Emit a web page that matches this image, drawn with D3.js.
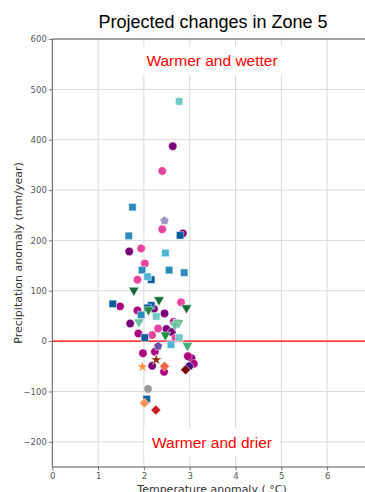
<!DOCTYPE html>
<html>
<head>
<meta charset="utf-8">
<script src="https://cdn.jsdelivr.net/npm/d3@7"></script>
<style>
  body { margin: 0; background: #fff; }
  svg { display: block; }
</style>
</head>
<body>
<div id="chart"></div>
<script>
// projected anomalies: [temperature (°C), precipitation (mm/year)]
var purpleCircles = [[2.63, 387], [1.68, 178], [2.85, 214], [1.70, 35], [2.45, 55], [2.49, 24], [2.61, 18], [2.22, 64], [2.18, -49], [3.04, -34]];
var magentaCircles = [[1.48, 69], [1.86, 61], [1.88, 15], [1.98, -24], [2.24, -21], [2.44, -61], [2.96, -30], [3.09, -45], [2.65, 38]];
var pinkCircles = [[2.40, 338], [2.40, 222], [1.94, 184], [2.02, 154], [1.86, 122], [2.81, 77], [2.31, 25], [2.18, 12], [2.69, 6]];
var indigoCircles = [[2.99, -50]];
var greyCircles = [[2.09, -95]];
var darkBlueSquares = [[2.79, 210], [2.16, 122], [1.32, 74], [2.16, 71], [2.08, 66], [2.02, 7], [2.06, -115]];
var blueSquares = [[1.75, 266], [1.67, 209], [1.96, 141], [2.55, 141], [2.88, 136], [1.94, 52]];
var lightBlueSquares = [[2.47, 175], [2.08, 128], [2.59, -7], [2.72, 36]];
var tealSquares = [[2.77, 476], [2.27, 49], [2.77, 7]];
var darkGreenTriangles = [[1.78, 101], [2.33, 82], [2.93, 66]];
var greenTriangles = [[2.10, 62], [2.47, 12]];
var midGreenTriangles = [[2.95, -9], [2.75, 36]];
var paleGreenTriangles = [[1.89, 38], [2.68, 32]];
var darkRedDiamonds = [[2.91, -57]];
var redDiamonds = [[2.26, -137]];
var orangeRedDiamonds = [[2.45, -50]];
var orangeDiamonds = [[2.01, -123]];
var brownStars = [[2.27, -37]];
var orangeStars = [[1.97, -51]];
var lavenderPentagons = [[2.45, 239]];
var violetPentagons = [[2.31, -10]];

var xTicks = [0, 1, 2, 3, 4, 5, 6];
var yTicks = [-200, -100, 0, 100, 200, 300, 400, 500, 600];

var width = 365, height = 492;
var plotLeft = 52.3, plotTop = 39, plotBottom = 467;

var svg = d3.select("#chart").append("svg")
    .attr("width", width)
    .attr("height", height);

var x = d3.scaleLinear().domain([0, 7]).range([plotLeft, plotLeft + 7 * 45.8]);
var y = d3.scaleLinear().domain([-250, 600]).range([plotBottom, plotTop]);

// pentagon marker like matplotlib "p"
var symbolPentagon = {
    draw: function (context, size) {
        var r = Math.sqrt(size / 2.378);
        for (var i = 0; i < 5; i++) {
            var a = -Math.PI / 2 + i * 2 * Math.PI / 5;
            if (i === 0) context.moveTo(r * Math.cos(a), r * Math.sin(a));
            else context.lineTo(r * Math.cos(a), r * Math.sin(a));
        }
        context.closePath();
    }
};

var series = [
    {data: purpleCircles, type: d3.symbolCircle, size: 56, color: "#7a0177", rot: 0},
    {data: magentaCircles, type: d3.symbolCircle, size: 56, color: "#ae017e", rot: 0},
    {data: pinkCircles, type: d3.symbolCircle, size: 56, color: "#e7449b", rot: 0},
    {data: indigoCircles, type: d3.symbolCircle, size: 56, color: "#4a1486", rot: 0},
    {data: greyCircles, type: d3.symbolCircle, size: 56, color: "#9a9a9a", rot: 0},
    {data: darkBlueSquares, type: d3.symbolSquare, size: 56, color: "#0a5d9c", rot: 0},
    {data: blueSquares, type: d3.symbolSquare, size: 56, color: "#2b8cbe", rot: 0},
    {data: lightBlueSquares, type: d3.symbolSquare, size: 56, color: "#4eb3d3", rot: 0},
    {data: tealSquares, type: d3.symbolSquare, size: 56, color: "#74c9c6", rot: 0},
    {data: darkGreenTriangles, type: d3.symbolTriangle, size: 48, color: "#1b6b3a", rot: 180},
    {data: greenTriangles, type: d3.symbolTriangle, size: 48, color: "#238b45", rot: 180},
    {data: midGreenTriangles, type: d3.symbolTriangle, size: 48, color: "#41ae76", rot: 180},
    {data: paleGreenTriangles, type: d3.symbolTriangle, size: 48, color: "#66c2a4", rot: 180},
    {data: darkRedDiamonds, type: d3.symbolSquare, size: 50, color: "#7f0000", rot: 45},
    {data: redDiamonds, type: d3.symbolSquare, size: 50, color: "#cb181d", rot: 45},
    {data: orangeRedDiamonds, type: d3.symbolSquare, size: 50, color: "#ef6548", rot: 45},
    {data: orangeDiamonds, type: d3.symbolSquare, size: 50, color: "#fc8d59", rot: 45},
    {data: brownStars, type: d3.symbolStar, size: 40, color: "#8c2d04", rot: 0},
    {data: orangeStars, type: d3.symbolStar, size: 40, color: "#fd8d3c", rot: 0},
    {data: lavenderPentagons, type: symbolPentagon, size: 52, color: "#9e9ac8", rot: 0},
    {data: violetPentagons, type: symbolPentagon, size: 52, color: "#6a51a3", rot: 0}
];

// grid
svg.append("g").selectAll("line").data(xTicks.slice(1)).enter().append("line")
    .attr("x1", function (d) { return x(d); })
    .attr("x2", function (d) { return x(d); })
    .attr("y1", plotTop).attr("y2", plotBottom)
    .attr("stroke", "#dadada").attr("stroke-width", 1);

svg.append("g").selectAll("line").data(yTicks).enter().append("line")
    .attr("x1", plotLeft).attr("x2", width)
    .attr("y1", function (d) { return y(d); })
    .attr("y2", function (d) { return y(d); })
    .attr("stroke", "#dadada").attr("stroke-width", 1);

// region labels with white boxes
function boxedLabel(text, cx, baseline) {
    var g = svg.append("g");
    var t = g.append("text")
        .attr("x", cx).attr("y", baseline)
        .attr("text-anchor", "middle")
        .style("font-family", "'Liberation Sans', Arial, sans-serif")
        .style("font-size", "15.5px")
        .attr("fill", "#ff0000")
        .text(text);
    var b = t.node().getBBox();
    g.insert("rect", "text")
        .attr("x", b.x - 8).attr("y", b.y - 6)
        .attr("width", b.width + 16).attr("height", b.height + 12)
        .attr("fill", "#fff");
}
boxedLabel("Warmer and wetter", 212, 66);
boxedLabel("Warmer and drier", 212, 448);

// zero line
svg.append("line")
    .attr("x1", plotLeft).attr("x2", width)
    .attr("y1", y(0)).attr("y2", y(0))
    .attr("stroke", "#ff0000").attr("stroke-width", 1.3);

// axes
var xAxis = svg.append("g")
    .attr("transform", "translate(0," + plotBottom + ")")
    .call(d3.axisBottom(x).tickValues(xTicks).tickSize(3.5).tickPadding(2)
        .tickFormat(d3.format("d")));
var yAxis = svg.append("g")
    .attr("transform", "translate(" + plotLeft + ",0)")
    .call(d3.axisLeft(y).tickValues(yTicks).tickSize(3.5).tickPadding(2)
        .tickFormat(function (d) { return d < 0 ? "\u2212" + Math.abs(d) : d; }));

[xAxis, yAxis].forEach(function (a) {
    a.select(".domain").remove();
    a.selectAll(".tick line").attr("stroke", "#555").attr("stroke-width", 0.8);
    a.selectAll(".tick text")
        .style("font-family", "'DejaVu Sans', sans-serif")
        .style("font-size", "8.5px")
        .attr("fill", "#555");
});

// spines
svg.append("line").attr("x1", plotLeft).attr("x2", plotLeft).attr("y1", plotTop).attr("y2", plotBottom)
    .attr("stroke", "#555").attr("stroke-width", 1);
svg.append("line").attr("x1", plotLeft).attr("x2", width).attr("y1", plotTop).attr("y2", plotTop)
    .attr("stroke", "#555").attr("stroke-width", 1);
svg.append("line").attr("x1", plotLeft).attr("x2", width).attr("y1", plotBottom).attr("y2", plotBottom)
    .attr("stroke", "#555").attr("stroke-width", 1);

// points
series.forEach(function (s) {
    svg.append("g").selectAll("path").data(s.data).enter().append("path")
        .attr("d", d3.symbol().type(s.type).size(s.size))
        .attr("transform", function (d) {
            return "translate(" + x(d[0]) + "," + y(d[1]) + ") rotate(" + s.rot + ")";
        })
        .attr("fill", s.color)
        .attr("stroke", "#fff")
        .attr("stroke-width", 0.5);
});

// title and axis labels
svg.append("text")
    .attr("x", 213).attr("y", 28)
    .attr("text-anchor", "middle")
    .style("font-family", "'Liberation Sans', Arial, sans-serif")
    .style("font-size", "18px")
    .attr("fill", "#000")
    .text("Projected changes in Zone 5");

svg.append("text")
    .attr("transform", "translate(22,253) rotate(-90)")
    .attr("text-anchor", "middle")
    .style("font-family", "'DejaVu Sans', sans-serif")
    .style("font-size", "11px")
    .attr("fill", "#333")
    .text("Precipitation anomaly (mm/year)");

svg.append("text")
    .attr("x", 212).attr("y", 493)
    .attr("text-anchor", "middle")
    .style("font-family", "'DejaVu Sans', sans-serif")
    .style("font-size", "11px")
    .attr("fill", "#333")
    .text("Temperature anomaly ( \u00b0C)");
</script>
</body>
</html>
